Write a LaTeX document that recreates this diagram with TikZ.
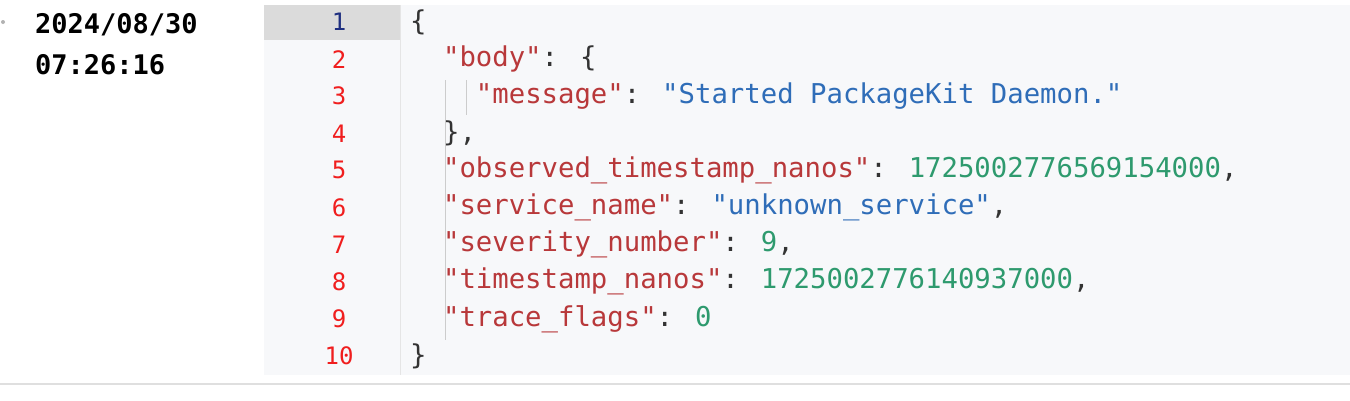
\documentclass[tikz,border=0pt]{standalone}
\usepackage{fontspec}
\newfontfamily\mono{DejaVu Sans Mono}
\definecolor{keyc}{HTML}{B8383A}
\definecolor{strc}{HTML}{2F6DB8}
\definecolor{numc}{HTML}{2E9A6E}
\definecolor{punc}{HTML}{333333}
\definecolor{lnr}{HTML}{F01E1E}
\definecolor{lnb}{HTML}{1F2F80}
\definecolor{panel}{HTML}{F7F8FA}
\begin{document}
\begin{tikzpicture}[x=1pt,y=-1pt,
  code/.style={anchor=west,inner sep=0pt,font=\mono\fontsize{27.3}{30}\selectfont,text=punc},
  lnum/.style={anchor=center,inner sep=0pt,font=\mono\fontsize{24}{28}\selectfont,text=lnr}]
\useasboundingbox (0,0) rectangle (1350,400);
\fill[white] (0,0) rectangle (1350,400);
\fill[gray!60] (3,22) circle (2);
\node[anchor=west,inner sep=0pt,font=\mono\bfseries\fontsize{27}{30}\selectfont] (d) at (35,25) {2024/08/30};
\node[anchor=west,inner sep=0pt,font=\mono\bfseries\fontsize{27}{30}\selectfont] (t) at (35,65) {07:26:16};
\fill[panel] (264,5) rectangle (1350,375);
\fill[gray!28] (264,5) rectangle (400,40);
\draw[gray!20] (400,5) -- (400,375);
\draw[gray!25,line width=1.2] (0,384) -- (1350,384);
\draw[gray!40] (445,80) -- (445,340);
\draw[gray!40] (466,80) -- (466,115);
\foreach \i in {2,...,10}{
  \node[lnum] (n\i) at (339,{22+(\i-1)*37.1}) {\i};
}
\node[lnum,text=lnb] (n1) at (339,22) {1};
\node[code] (c1) at (410,22) {\{};
\node[code] (c2) at (410,59.1) {\hphantom{xx}\textcolor{keyc}{"body"}: \{};
\node[code] (c3) at (410,96.2) {\hphantom{xxxx}\textcolor{keyc}{"message"}: \textcolor{strc}{"Started PackageKit Daemon."}};
\node[code] (c4) at (410,133.3) {\hphantom{xx}\},};
\node[code] (c5) at (410,170.4) {\hphantom{xx}\textcolor{keyc}{"observed\_timestamp\_nanos"}: \textcolor{numc}{1725002776569154000},};
\node[code] (c6) at (410,207.5) {\hphantom{xx}\textcolor{keyc}{"service\_name"}: \textcolor{strc}{"unknown\_service"},};
\node[code] (c7) at (410,244.6) {\hphantom{xx}\textcolor{keyc}{"severity\_number"}: \textcolor{numc}{9},};
\node[code] (c8) at (410,281.7) {\hphantom{xx}\textcolor{keyc}{"timestamp\_nanos"}: \textcolor{numc}{1725002776140937000},};
\node[code] (c9) at (410,318.8) {\hphantom{xx}\textcolor{keyc}{"trace\_flags"}: \textcolor{numc}{0}};
\node[code] (c10) at (410,355.9) {\}};
\end{tikzpicture}
\end{document}
